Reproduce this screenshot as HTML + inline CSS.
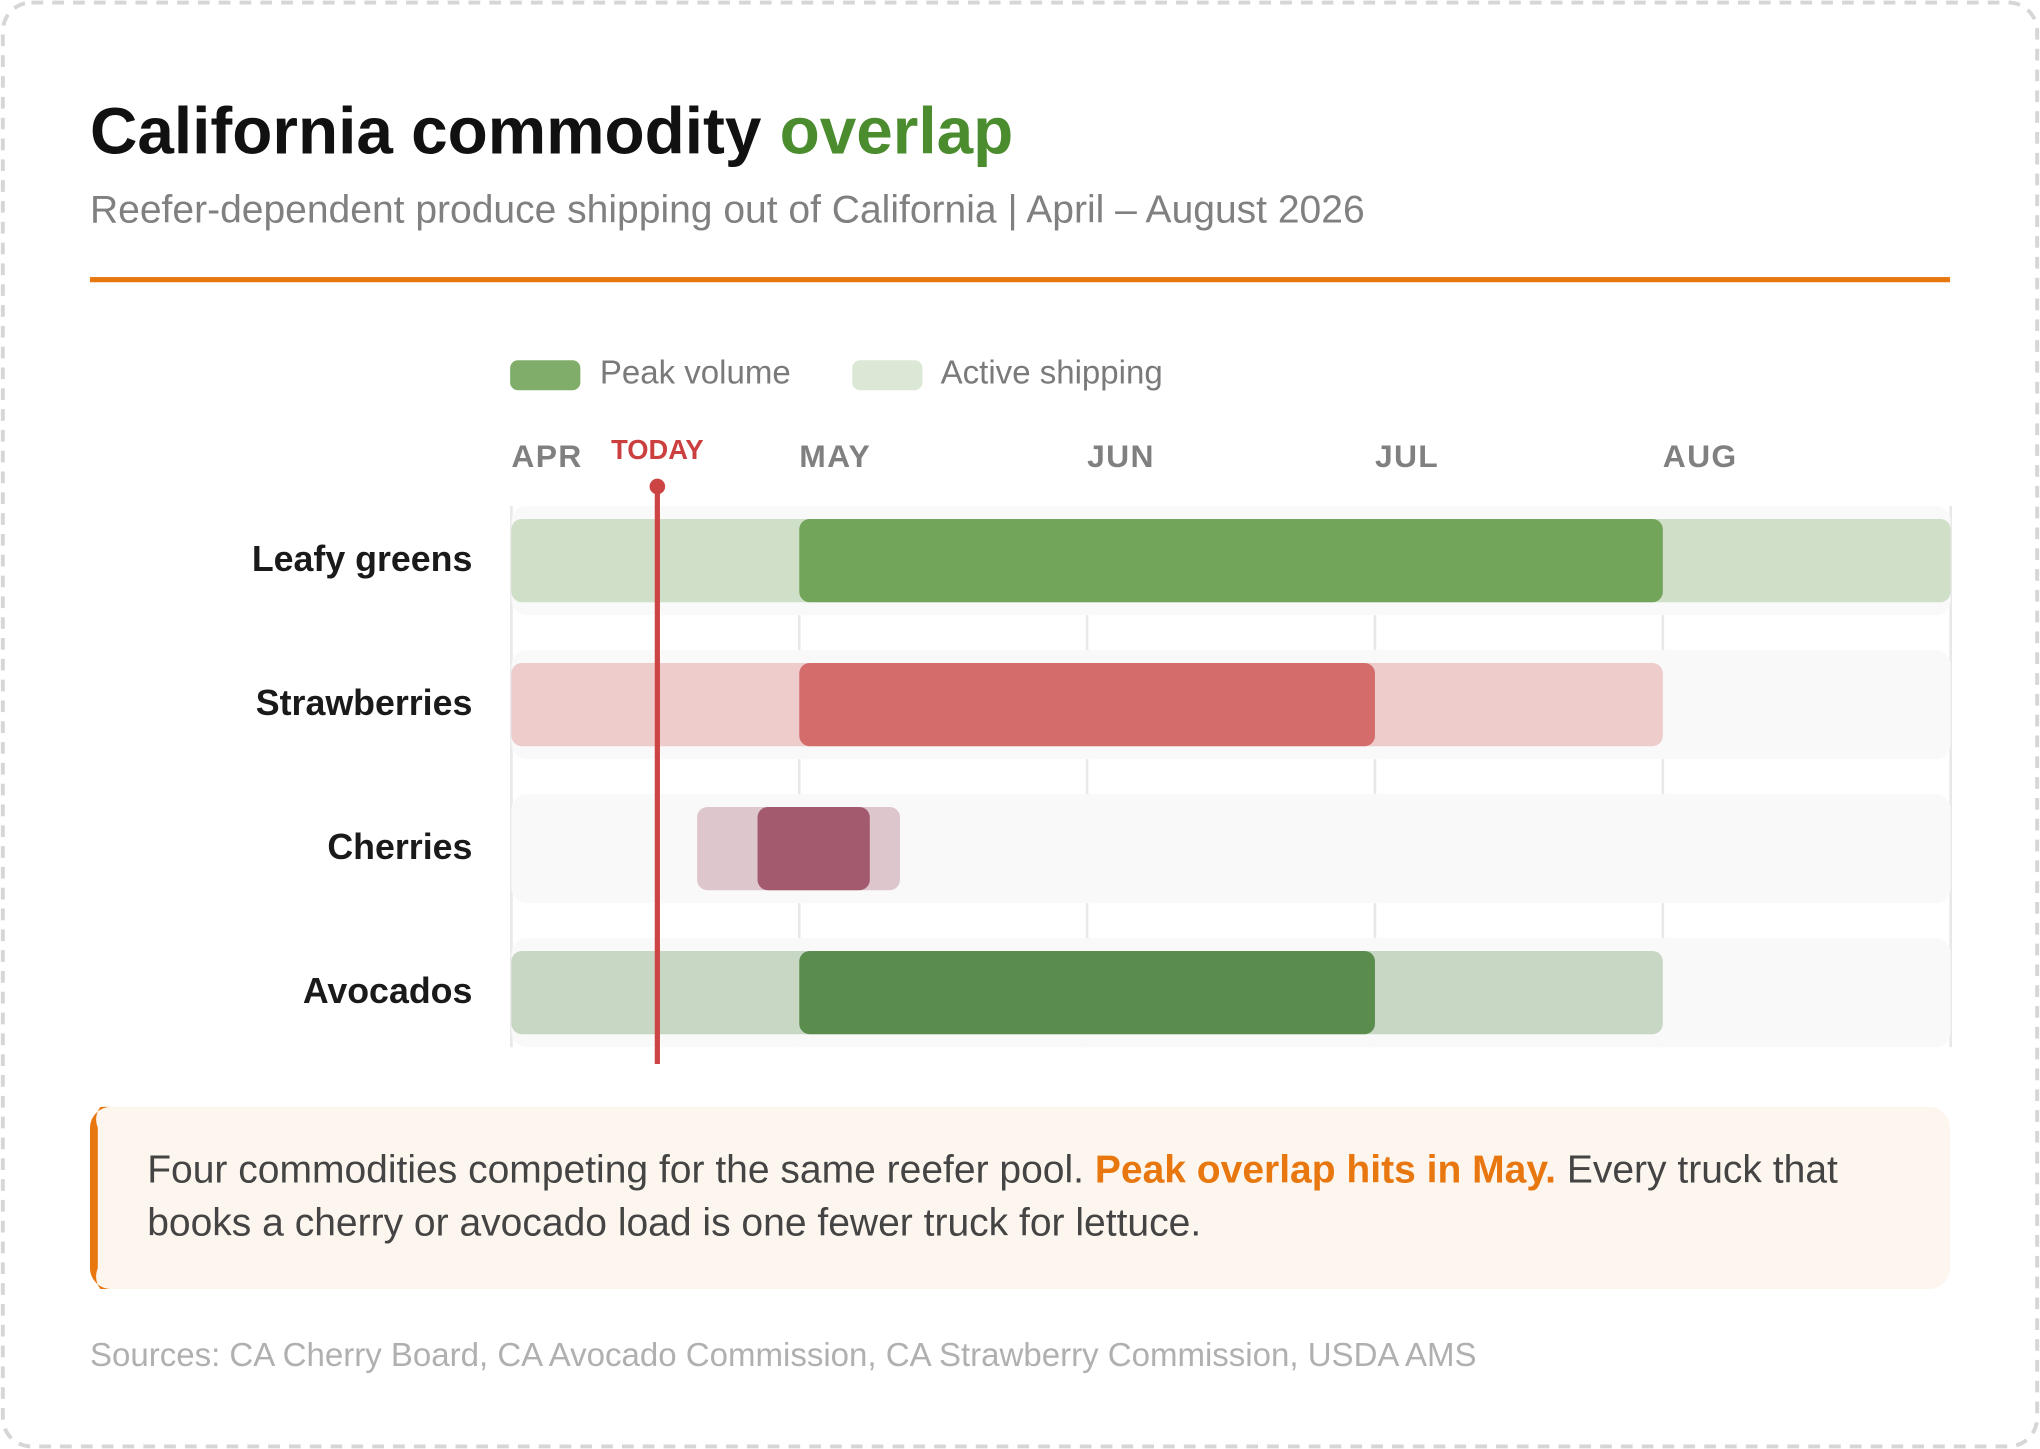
<!DOCTYPE html>
<html><head><meta charset="utf-8">
<style>
html,body{margin:0;padding:0;background:#fff;}
svg{display:block;font-family:"Liberation Sans",sans-serif;}
</style></head>
<body>
<svg id="chart" width="2040" height="1449" viewBox="0 0 1568 1114" xmlns="http://www.w3.org/2000/svg">
<rect x="2" y="2" width="1564" height="1110" rx="22" fill="#fff" stroke="#d6d6d6" stroke-width="3" stroke-dasharray="9 7"/>
<text x="69" y="118" font-size="50.5" font-weight="700" fill="#111">California commodity <tspan fill="#4a8c2e">overlap</tspan></text>
<text x="69" y="171" font-size="30" fill="#808080">Reefer-dependent produce shipping out of California | April – August 2026</text>
<rect x="69" y="213" width="1430" height="4" fill="#e8770f"/>
<g>
<rect x="392" y="277" width="54" height="23" rx="6" fill="#80ad6a"/>
<text x="461" y="295" font-size="25.4" fill="#7a7a7a">Peak volume</text>
<rect x="655" y="277" width="54" height="23" rx="6" fill="#dce8d6"/>
<text x="723" y="295" font-size="25.4" fill="#7a7a7a">Active shipping</text>
</g>
<g id="grid"></g>
<g id="bands"></g>
<g id="bars"></g>
<g id="labels"></g>
<g id="today"></g>
<g>
<rect x="69" y="851" width="1430" height="140" rx="16" fill="#fdf6ee"/>
<path d="M85 851 A16 16 0 0 0 69 867 L69 975 A16 16 0 0 0 85 991 L77 991 A16 16 0 0 1 75 975 L75 867 A16 16 0 0 1 77 851Z" fill="#e8770f"/>
<text x="113" y="909" font-size="30" fill="#444">Four commodities competing for the same reefer pool. <tspan font-weight="700" fill="#e8770f">Peak overlap hits in May.</tspan> Every truck that</text>
<text x="113" y="950" font-size="30" fill="#444">books a cherry or avocado load is one fewer truck for lettuce.</text>
</g>
<text x="69" y="1050" font-size="25.4" fill="#b0b0b0">Sources: CA Cherry Board, CA Avocado Commission, CA Strawberry Commission, USDA AMS</text>
</svg>
<script>
const months = ["APR","MAY","JUN","JUL","AUG"];
const commodities = ["Leafy greens","Strawberries","Cherries","Avocados"];
const activeStart = [0, 0, 0.645, 0];
const activeEnd = [5, 4, 1.35, 4];
const peakStart = [1, 1, 0.855, 1];
const peakEnd = [4, 3, 1.245, 3];
const peakColors = ["#72a45a","#d46c6c","#a45a6e","#5a8c4e"];
const activeColors = ["#cfdfc8","#eecccc","#dec6cd","#c7d7c4"];
const todayValue = 0.507;

const NS="http://www.w3.org/2000/svg";
const x0=393, mw=221.3, rowTop=389, rowH=110.7;
const xs=v=>x0+v*mw;
const yc=i=>rowTop+42+i*rowH;
const gridBottom=rowTop+(commodities.length-1)*rowH+84;
function mk(tag,attrs,parent){const e=document.createElementNS(NS,tag);for(const k in attrs)e.setAttribute(k,attrs[k]);document.getElementById(parent).appendChild(e);return e;}

months.forEach((m,i)=>{
  const l=mk("line",{x1:xs(i),x2:xs(i),y1:rowTop,y2:gridBottom,stroke:"#e8e8e8","stroke-width":2},"grid");
  
  
  const t=mk("text",{x:xs(i),y:359,"font-size":24.5,"font-weight":700,fill:"#808080","letter-spacing":"1"},"grid");
  t.textContent=m;
  
  
});
const endLine=mk("line",{x1:xs(5),x2:xs(5),y1:rowTop,y2:gridBottom,stroke:"#e8e8e8","stroke-width":2},"grid");



commodities.forEach((c,i)=>{
  const slug=c.toLowerCase().replace(/\s+/g,'-');
  const b=mk("rect",{x:xs(0),y:yc(i)-42,width:xs(5)-xs(0),height:84,rx:12,fill:"#f9f9f9"},"bands");
  
  
  const a=mk("rect",{x:xs(activeStart[i]),y:yc(i)-32,width:xs(activeEnd[i])-xs(activeStart[i]),height:64,rx:8,fill:activeColors[i]},"bars");
  
  
  const p=mk("rect",{x:xs(peakStart[i]),y:yc(i)-32,width:xs(peakEnd[i])-xs(peakStart[i]),height:64,rx:8,fill:peakColors[i]},"bars");
  
  
  const t=mk("text",{x:363,y:yc(i)+8,"font-size":27.5,"font-weight":700,fill:"#1a1a1a","text-anchor":"end"},"labels");
  t.textContent=c;
  
  
});

const tx=xs(todayValue);
const tl=mk("line",{x1:tx,x2:tx,y1:374,y2:818,stroke:"#cc4444","stroke-width":4},"today");


const td=mk("circle",{cx:tx,cy:374,r:6,fill:"#cc4444"},"today");


const tt=mk("text",{x:tx,y:353,"font-size":21,"font-weight":700,fill:"#cc3f3f","text-anchor":"middle"},"today");
tt.textContent="TODAY";


</script>
</body></html>
